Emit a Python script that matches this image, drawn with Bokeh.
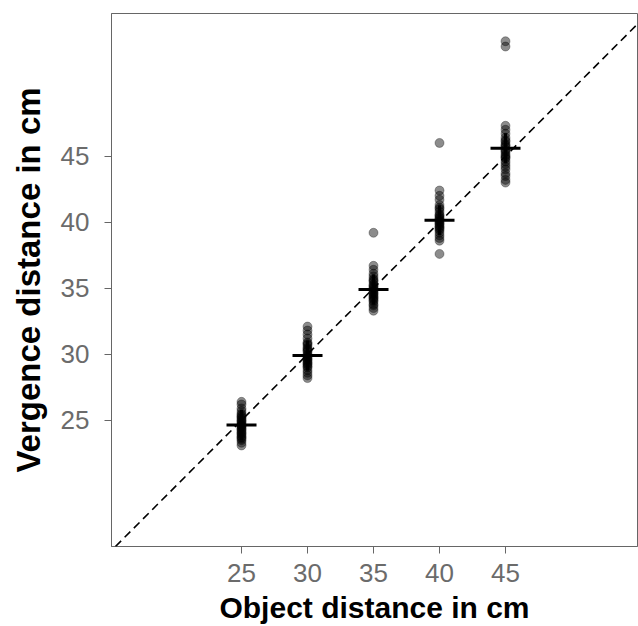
import numpy as np
from bokeh.plotting import figure
from bokeh.models import Range1d, FixedTicker, Slope, ColumnDataSource
from bokeh.embed import file_html
from bokeh.resources import INLINE

# ---- data ----
object_dist = [25, 30, 35, 40, 45]
vals25 = [26.4, 26.2, 25.9, 25.7, 25.5, 25.4, 25.3, 25.2, 25.1, 25.0, 24.9, 24.8,
          24.7, 24.6, 24.6, 24.5, 24.4, 24.3, 24.2, 24.1, 24.0, 23.9, 23.8, 23.7,
          23.6, 23.5, 23.3, 23.1]
vals30 = [32.1, 31.8, 31.5, 31.2, 30.9, 30.8, 30.7, 30.5, 30.4, 30.3, 30.2, 30.0,
          29.9, 29.8, 29.7, 29.6, 29.5, 29.4, 29.3, 29.2, 29.1, 29.0, 28.8, 28.6,
          28.4, 28.2]
vals35 = [39.2, 36.7, 36.4, 36.1, 35.9, 35.7, 35.6, 35.5, 35.3, 35.2, 35.1, 35.0,
          34.9, 34.8, 34.7, 34.6, 34.5, 34.4, 34.3, 34.2, 34.1, 34.0, 33.8, 33.7,
          33.5, 33.3]
vals40 = [46.0, 42.4, 42.0, 41.7, 41.3, 41.1, 41.0, 40.8, 40.6, 40.5, 40.4, 40.3,
          40.2, 40.1, 40.0, 39.9, 39.8, 39.7, 39.6, 39.5, 39.4, 39.2, 39.0, 38.8,
          38.6, 37.6]
vals45 = [53.7, 53.3, 47.3, 47.0, 46.7, 46.4, 46.2, 46.1, 45.9, 45.8, 45.7, 45.5,
          45.4, 45.3, 45.1, 45.0, 44.9, 44.8, 44.6, 44.4, 44.2, 44.0, 43.7, 43.5,
          43.2, 43.0]
mean_vergence = [24.65, 29.9, 34.9, 40.15, 45.6]
tick_values = [25, 30, 35, 40, 45]

groups = [vals25, vals30, vals35, vals40, vals45]
xs, ys = [], []
for d, g in zip(object_dist, groups):
    xs += [d] * len(g)
    ys += g
pts = ColumnDataSource(dict(x=xs, y=ys))
means = ColumnDataSource(dict(x=object_dist, y=mean_vergence))

FONT = "Liberation Sans"

p = figure(width=638, height=626, output_backend="svg", toolbar_location=None,
           x_range=Range1d(15.15, 55.0), y_range=Range1d(15.45, 55.8),
           min_border_left=111, min_border_right=1, min_border_top=13,
           min_border_bottom=79)

p.add_layout(Slope(gradient=1, y_intercept=0, line_color="black",
                   line_width=1.6, line_dash="8 5"))

p.scatter("x", "y", source=pts, size=9, fill_color="black", fill_alpha=0.45,
          line_color="black", line_alpha=0.3)
p.scatter("x", "y", source=means, marker="cross", size=30, line_color="black",
          line_width=3)

p.xgrid.visible = False
p.ygrid.visible = False
p.background_fill_color = "white"
p.border_fill_color = "white"
p.outline_line_color = "#666666"
p.outline_line_width = 1

for ax in (p.xaxis[0], p.yaxis[0]):
    ax.ticker = FixedTicker(ticks=tick_values)
    ax.minor_tick_line_color = None
    ax.major_tick_in = 0
    ax.major_tick_out = 7
    ax.major_tick_line_color = "#666666"
    ax.axis_line_color = "#666666"
    ax.major_label_text_font = FONT
    ax.major_label_text_font_size = "26px"
    ax.major_label_text_color = "#6b6b6b"
    ax.axis_label_text_font = FONT
    ax.axis_label_text_font_style = "bold"
    ax.axis_label_text_color = "black"

p.xaxis.axis_label_text_font_size = "30px"
p.yaxis.axis_label_text_font_size = "33px"
p.xaxis.axis_label = "Object distance in cm"
p.yaxis.axis_label = "Vergence distance in cm"
p.xaxis.major_label_standoff = 10
p.yaxis.major_label_standoff = 15
p.xaxis.axis_label_standoff = 6
p.yaxis.axis_label_standoff = 11

open("out.html", "w").write(file_html(p, INLINE))
